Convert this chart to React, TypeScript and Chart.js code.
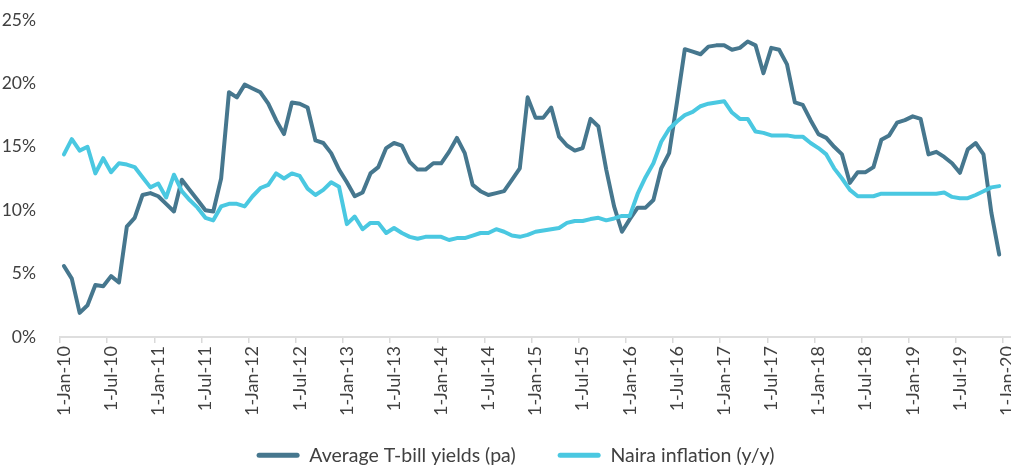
import React, { useEffect, useRef } from 'react';
import { Chart, registerables } from 'chart.js';

Chart.register(...registerables);

// Monthly observations, Jan-2010 .. Dec-2019 (percent)
const tbillYields: number[] = [
  5.6, 4.6, 1.9, 2.5, 4.1, 4.0, 4.8, 4.3, 8.7, 9.4, 11.2, 11.35,
  11.1, 10.5, 9.9, 12.4, 11.6, 10.8, 10.0, 9.9, 12.5, 19.3, 18.9, 19.9,
  19.6, 19.3, 18.4, 17.1, 16.0, 18.5, 18.4, 18.1, 15.5, 15.3, 14.5, 13.2,
  12.2, 11.1, 11.4, 12.9, 13.4, 14.9, 15.3, 15.1, 13.8, 13.2, 13.2, 13.7,
  13.7, 14.6, 15.7, 14.5, 12.0, 11.5, 11.2, 11.35, 11.5, 12.4, 13.3, 18.9,
  17.3, 17.3, 18.1, 15.8, 15.1, 14.7, 14.9, 17.2, 16.6, 13.2, 10.3, 8.3,
  9.3, 10.2, 10.2, 10.8, 13.3, 14.5, 18.5, 22.7, 22.5, 22.3, 22.9, 23.0,
  23.0, 22.65, 22.8, 23.3, 23.0, 20.8, 22.8, 22.65, 21.5, 18.5, 18.3, 17.1,
  16.0, 15.7, 15.0, 14.4, 12.15, 13.0, 13.0, 13.4, 15.55, 15.9, 16.9, 17.1,
  17.4, 17.2, 14.4, 14.6, 14.2, 13.7, 12.95, 14.8, 15.3, 14.4, 9.8, 6.5,
];

const nairaInflation: number[] = [
  14.4, 15.6, 14.7, 15.0, 12.9, 14.1, 13.0, 13.7, 13.6, 13.4, 12.6, 11.8,
  12.1, 11.0, 12.8, 11.5, 10.8, 10.2, 9.4, 9.2, 10.3, 10.5, 10.5, 10.3,
  11.1, 11.75, 12.0, 12.9, 12.5, 12.9, 12.7, 11.7, 11.2, 11.6, 12.2, 11.85,
  8.9, 9.5, 8.5, 9.0, 9.0, 8.2, 8.6, 8.2, 7.9, 7.75, 7.9, 7.9,
  7.9, 7.65, 7.8, 7.8, 8.0, 8.2, 8.2, 8.5, 8.3, 8.0, 7.9, 8.05,
  8.3, 8.4, 8.5, 8.6, 9.0, 9.15, 9.15, 9.3, 9.4, 9.2, 9.35, 9.55,
  9.55, 11.3, 12.6, 13.7, 15.4, 16.4, 17.0, 17.5, 17.75, 18.2, 18.4, 18.5,
  18.6, 17.7, 17.2, 17.2, 16.2, 16.1, 15.9, 15.9, 15.9, 15.8, 15.8, 15.3,
  14.9, 14.4, 13.3, 12.5, 11.6, 11.1, 11.1, 11.1, 11.3, 11.3, 11.3, 11.3,
  11.3, 11.3, 11.3, 11.3, 11.4, 11.05, 10.95, 10.95, 11.2, 11.5, 11.8, 11.9,
];

const tickLabels: string[] = [
  '1-Jan-10', '1-Jul-10', '1-Jan-11', '1-Jul-11', '1-Jan-12', '1-Jul-12',
  '1-Jan-13', '1-Jul-13', '1-Jan-14', '1-Jul-14', '1-Jan-15', '1-Jul-15',
  '1-Jan-16', '1-Jul-16', '1-Jan-17', '1-Jul-17', '1-Jan-18', '1-Jul-18',
  '1-Jan-19', '1-Jul-19', '1-Jan-20',
];

const monthNames: string[] = ['Jan', 'Feb', 'Mar', 'Apr', 'May', 'Jun', 'Jul', 'Aug', 'Sep', 'Oct', 'Nov', 'Dec'];
// 121 monthly categories: Jan-10 .. Jan-20
const categories: string[] = Array.from({ length: 121 }, (_, k) =>
  `1-${monthNames[k % 12]}-${String(10 + Math.floor(k / 12)).padStart(2, '0')}`
);

const seriesNames: string[] = ['Average T-bill yields (pa)', 'Naira inflation (y/y)'];
const yTickValues: number[] = [0, 5, 10, 15, 20, 25];

const DARK = '#46778E';
const LIGHT = '#4AC8E1';
const TEXT = '#404040';
const FONT = 'Lato, "Open Sans", sans-serif';

const layoutTweaks = {
  id: 'layoutTweaks',
  afterLayout(chart: any) {
    const lg = chart.legend;
    if (lg) {
      lg.top += 8;
      lg.bottom += 8;
      lg.left += 10;
      lg.right += 10;
    }
    const xs = chart.scales.x;
    if (xs) {
      // let rotated tick labels run past the (shortened) axis box without clipping
      xs.bottom = xs.top + 90;
    }
  },
};

export default function App() {
  const ref = useRef<HTMLCanvasElement | null>(null);

  useEffect(() => {
    if (!ref.current) return;
    const chart = new Chart(ref.current, {
      type: 'line',
      data: {
        labels: categories,
        datasets: [
          {
            label: seriesNames[0],
            data: tbillYields,
            borderColor: DARK,
            backgroundColor: DARK,
            borderWidth: 4,
            pointRadius: 0,
            pointHoverRadius: 0,
            tension: 0,
            borderJoinStyle: 'round',
            borderCapStyle: 'round',
            order: 1,
          },
          {
            label: seriesNames[1],
            data: nairaInflation,
            borderColor: LIGHT,
            backgroundColor: LIGHT,
            borderWidth: 4,
            pointRadius: 0,
            pointHoverRadius: 0,
            tension: 0,
            borderJoinStyle: 'round',
            borderCapStyle: 'round',
            order: 0,
          },
        ],
      },
      plugins: [layoutTweaks],
      options: {
        animation: false,
        responsive: false,
        devicePixelRatio: 1,
        layout: { padding: { top: 20, right: 0, bottom: 0, left: 0 } },
        plugins: {
          tooltip: { enabled: false },
          legend: {
            position: 'bottom',
            labels: {
              boxWidth: 43,
              boxHeight: 5,
              padding: 42,
              color: TEXT,
              font: { family: FONT, size: 19.5 },
              sort: (a: any, b: any) => a.datasetIndex - b.datasetIndex,
              generateLabels: (c: any) => {
                const items = Chart.defaults.plugins.legend.labels.generateLabels(c);
                return items.map((it: any) => ({ ...it, lineWidth: 0, borderRadius: 2.5 }));
              },
            },
          },
        },
        scales: {
          x: {
            type: 'category',
            offset: true,
            grid: {
              display: true,
              drawOnChartArea: false,
              drawTicks: true,
              tickLength: 6,
              offset: true,
              lineWidth: 1.5,
              color: (ctx: any) => (ctx.index % 6 === 0 ? '#d9d9d9' : 'rgba(0,0,0,0)'),
            },
            border: { display: true, color: '#dedede', width: 2 },
            ticks: {
              autoSkip: false,
              minRotation: 90,
              maxRotation: 90,
              padding: 3,
              color: TEXT,
              font: { family: FONT, size: 18 },
              callback: (_v: any, i: number) => (i % 6 === 0 ? tickLabels[i / 6] : ''),
            },
            afterFit: (s: any) => {
              s.paddingLeft = 0;
              s.paddingRight = 0;
              s.height = 58.5;
            },
          },
          y: {
            min: 0,
            max: 25,
            grid: { display: false },
            border: { display: false },
            afterBuildTicks: (s: any) => {
              s.ticks = yTickValues.map((v) => ({ value: v }));
            },
            ticks: {
              padding: 16,
              color: TEXT,
              font: { family: FONT, size: 17.5 },
              callback: (v: any) => `${v}%`,
            },
            afterFit: (s: any) => {
              s.width = 60;
              s.paddingTop = 0;
              s.paddingBottom = 0;
            },
          },
        },
      },
    });
    return () => chart.destroy();
  }, []);

  return (
    <div style={{ position: 'fixed', left: 0, top: 0, width: 1011, height: 467, background: '#fff' }}>
      <canvas ref={ref} width={1011} height={467} style={{ display: 'block' }} />
    </div>
  );
}
